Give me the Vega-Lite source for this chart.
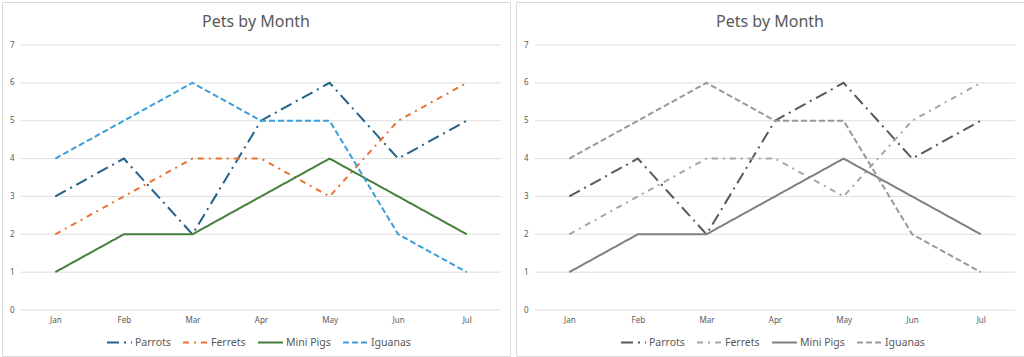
{
  "$schema": "https://vega.github.io/schema/vega-lite/v6.json",
  "background": "white",
  "padding": {"left": 1, "top": 1, "right": 3, "bottom": 2},
  "datasets": {
    "pets": [
      {"m": 1, "month": "Jan", "pet": "Parrots", "count": 3},
      {"m": 2, "month": "Feb", "pet": "Parrots", "count": 4},
      {"m": 3, "month": "Mar", "pet": "Parrots", "count": 2},
      {"m": 4, "month": "Apr", "pet": "Parrots", "count": 5},
      {"m": 5, "month": "May", "pet": "Parrots", "count": 6},
      {"m": 6, "month": "Jun", "pet": "Parrots", "count": 4},
      {"m": 7, "month": "Jul", "pet": "Parrots", "count": 5},
      {"m": 1, "month": "Jan", "pet": "Ferrets", "count": 2},
      {"m": 2, "month": "Feb", "pet": "Ferrets", "count": 3},
      {"m": 3, "month": "Mar", "pet": "Ferrets", "count": 4},
      {"m": 4, "month": "Apr", "pet": "Ferrets", "count": 4},
      {"m": 5, "month": "May", "pet": "Ferrets", "count": 3},
      {"m": 6, "month": "Jun", "pet": "Ferrets", "count": 5},
      {"m": 7, "month": "Jul", "pet": "Ferrets", "count": 6},
      {"m": 1, "month": "Jan", "pet": "Mini Pigs", "count": 1},
      {"m": 2, "month": "Feb", "pet": "Mini Pigs", "count": 2},
      {"m": 3, "month": "Mar", "pet": "Mini Pigs", "count": 2},
      {"m": 4, "month": "Apr", "pet": "Mini Pigs", "count": 3},
      {"m": 5, "month": "May", "pet": "Mini Pigs", "count": 4},
      {"m": 6, "month": "Jun", "pet": "Mini Pigs", "count": 3},
      {"m": 7, "month": "Jul", "pet": "Mini Pigs", "count": 2},
      {"m": 1, "month": "Jan", "pet": "Iguanas", "count": 4},
      {"m": 2, "month": "Feb", "pet": "Iguanas", "count": 5},
      {"m": 3, "month": "Mar", "pet": "Iguanas", "count": 6},
      {"m": 4, "month": "Apr", "pet": "Iguanas", "count": 5},
      {"m": 5, "month": "May", "pet": "Iguanas", "count": 5},
      {"m": 6, "month": "Jun", "pet": "Iguanas", "count": 2},
      {"m": 7, "month": "Jul", "pet": "Iguanas", "count": 1}
    ],
    "grid": [{"g": 0}, {"g": 1}, {"g": 2}, {"g": 3}, {"g": 4}, {"g": 5}, {"g": 6}, {"g": 7}]
  },
  "config": {
    "font": "Noto Sans",
    "view": {"stroke": "#dadada", "strokeWidth": 1},
    "axis": {"labelColor": "#595959", "labelFontSize": 8, "domain": false, "ticks": false, "title": null, "grid": false},
    "title": {"fontSize": 16, "color": "#595959", "fontWeight": "normal", "anchor": "middle"},
    "legend": {"orient": "none", "direction": "horizontal", "title": null, "symbolType": "stroke", "symbolSize": 625, "symbolStrokeWidth": 2, "labelFontSize": 10.5, "labelColor": "#595959", "columnPadding": 8, "labelOffset": 2, "legendX": 104, "legendY": 327}
  },
  "spacing": 4,
  "resolve": {"scale": {"color": "independent", "strokeDash": "independent"}, "legend": {"color": "independent", "strokeDash": "independent"}},
  "hconcat": [
    {
      "title": {"text": "Pets by Month", "offset": -28},
      "width": 508,
      "height": 354,
      "layer": [
        {
          "data": {"name": "grid"},
          "mark": {"type": "rule", "color": "#dedede", "strokeWidth": 1},
          "encoding": {
            "y": {"field": "g", "type": "quantitative"},
            "x": {"datum": 0.5},
            "x2": {"datum": 7.5}
          }
        },
        {
          "data": {"name": "pets"},
          "mark": {"type": "line", "strokeWidth": 2},
          "encoding": {
            "x": {"field": "m", "type": "quantitative", "scale": {"domain": [0.223, 7.631], "nice": false, "zero": false}, "axis": {"values": [1, 2, 3, 4, 5, 6, 7], "labelExpr": "['Jan','Feb','Mar','Apr','May','Jun','Jul'][datum.value-1]", "labelPadding": 6, "offset": -46}},
            "y": {"field": "count", "type": "quantitative", "scale": {"domain": [-1.215, 8.136], "nice": false, "zero": false}, "axis": {"values": [0, 1, 2, 3, 4, 5, 6, 7], "labelPadding": 7, "offset": -19}},
            "color": {"field": "pet", "type": "nominal", "scale": {"domain": ["Parrots", "Ferrets", "Mini Pigs", "Iguanas"], "range": ["#22618a", "#E97132", "#44803a", "#3a9fd8"]}},
            "strokeDash": {"field": "pet", "type": "nominal", "scale": {"domain": ["Parrots", "Ferrets", "Mini Pigs", "Iguanas"], "range": [[12, 5, 2, 5], [6, 5, 2, 5], [1, 0], [6, 3]]}}
          }
        }
      ]
    },
    {
      "title": {"text": "Pets by Month", "offset": -28},
      "width": 508,
      "height": 354,
      "layer": [
        {
          "data": {"name": "grid"},
          "mark": {"type": "rule", "color": "#dedede", "strokeWidth": 1},
          "encoding": {
            "y": {"field": "g", "type": "quantitative"},
            "x": {"datum": 0.5},
            "x2": {"datum": 7.5}
          }
        },
        {
          "data": {"name": "pets"},
          "mark": {"type": "line", "strokeWidth": 2},
          "encoding": {
            "x": {"field": "m", "type": "quantitative", "scale": {"domain": [0.223, 7.631], "nice": false, "zero": false}, "axis": {"values": [1, 2, 3, 4, 5, 6, 7], "labelExpr": "['Jan','Feb','Mar','Apr','May','Jun','Jul'][datum.value-1]", "labelPadding": 6, "offset": -46}},
            "y": {"field": "count", "type": "quantitative", "scale": {"domain": [-1.215, 8.136], "nice": false, "zero": false}, "axis": {"values": [0, 1, 2, 3, 4, 5, 6, 7], "labelPadding": 7, "offset": -19}},
            "color": {"field": "pet", "type": "nominal", "scale": {"domain": ["Parrots", "Ferrets", "Mini Pigs", "Iguanas"], "range": ["#595959", "#a6a6a6", "#808080", "#999999"]}},
            "strokeDash": {"field": "pet", "type": "nominal", "scale": {"domain": ["Parrots", "Ferrets", "Mini Pigs", "Iguanas"], "range": [[12, 5, 2, 5], [6, 5, 2, 5], [1, 0], [6, 3]]}}
          }
        }
      ]
    }
  ]
}
